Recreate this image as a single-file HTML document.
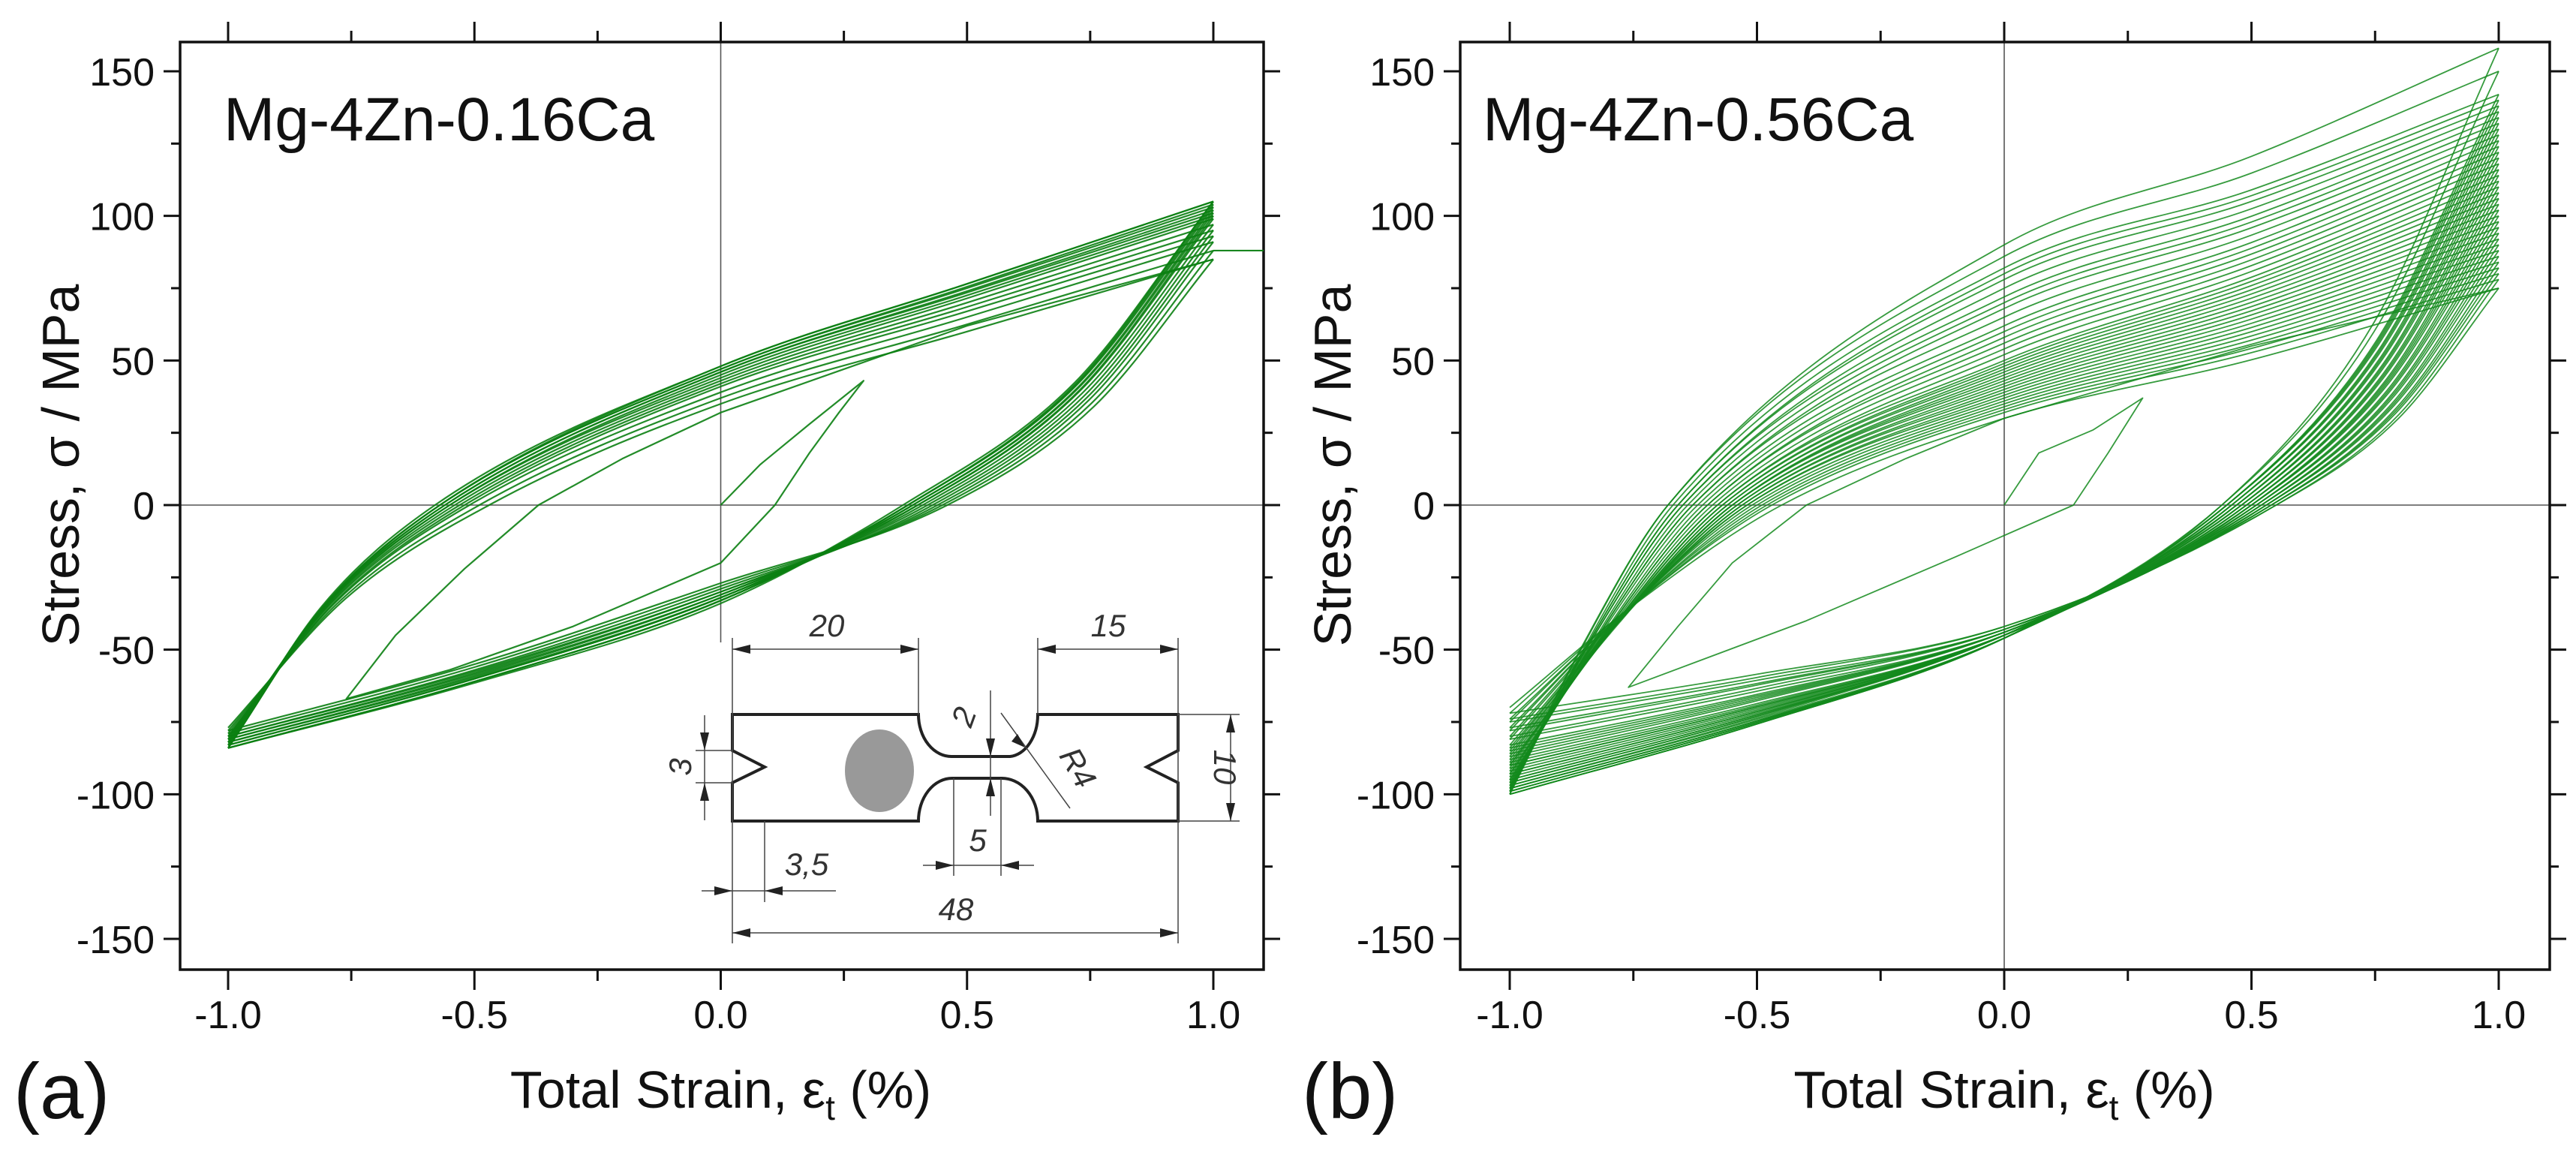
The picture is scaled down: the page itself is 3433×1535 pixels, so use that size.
<!DOCTYPE html>
<html><head><meta charset="utf-8">
<style>
html,body{margin:0;padding:0;background:#fff;}
svg{display:block;}
text{font-family:"Liberation Sans",Arial,sans-serif;fill:#111;}
.dim{font-family:"Liberation Sans",sans-serif;font-style:italic;font-size:42px;fill:#333;}
</style></head>
<body>
<svg id="chart" width="3433" height="1535" viewBox="0 0 3433 1535" xmlns="http://www.w3.org/2000/svg">
<g id="panelA"></g>
<g id="panelB"></g>
<g id="inset" fill="none" stroke="#222">
  <path d="M976,952 H1224 A44,56 0 0 0 1269,1008 H1346 A40,56 0 0 0 1383,952 H1570 V1000 L1528,1022 L1570,1043 V1094 H1383 A48,57 0 0 0 1334,1037 H1269 A45,57 0 0 0 1224,1094 H976 V1043 L1019,1022 L976,1000 Z" stroke-width="4"/>
  <ellipse cx="1172" cy="1027" rx="46" ry="55" fill="#999" stroke="none"/>
  <g stroke-width="1.5" stroke="#444">
    <line x1="976" y1="850" x2="976" y2="1257"/><line x1="1224" y1="850" x2="1224" y2="952"/>
    <line x1="1383" y1="850" x2="1383" y2="952"/><line x1="1570" y1="850" x2="1570" y2="1257"/>
    <line x1="976" y1="865" x2="1224" y2="865"/><line x1="1383" y1="865" x2="1570" y2="865"/>
    <line x1="1320" y1="920" x2="1320" y2="1087"/>
    <line x1="1334" y1="950" x2="1426" y2="1077"/>
    <line x1="1570" y1="952" x2="1652" y2="952"/><line x1="1570" y1="1094" x2="1652" y2="1094"/>
    <line x1="1640" y1="952" x2="1640" y2="1094"/>
    <line x1="927" y1="1000" x2="976" y2="1000"/><line x1="927" y1="1043" x2="976" y2="1043"/>
    <line x1="939" y1="953" x2="939" y2="1093"/>
    <line x1="1271" y1="1037" x2="1271" y2="1167"/><line x1="1334" y1="1037" x2="1334" y2="1167"/>
    <line x1="1230" y1="1153" x2="1378" y2="1153"/>
    <line x1="1019" y1="1094" x2="1019" y2="1202"/>
    <line x1="935" y1="1187" x2="1114" y2="1187"/>
    <line x1="976" y1="1243" x2="1570" y2="1243"/>
  </g>
  <g fill="#222" stroke="none">
    <path d="M976,865 l24,-6 v12z"/><path d="M1224,865 l-24,-6 v12z"/>
    <path d="M1383,865 l24,-6 v12z"/><path d="M1570,865 l-24,-6 v12z"/>
    <path d="M976,1243 l24,-6 v12z"/><path d="M1570,1243 l-24,-6 v12z"/>
    <path d="M1640,952 l-6,24 h12z"/><path d="M1640,1094 l-6,-24 h12z"/>
    <path d="M1271,1153 l-24,-6 v12z"/><path d="M1334,1153 l24,-6 v12z"/>
    <path d="M1320,1037 l-6,24 h12z"/><path d="M1320,1008 l-6,-24 h12z"/>
    <path d="M939,1000 l-6,-24 h12z"/><path d="M939,1043 l-6,24 h12z"/>
    <path d="M976,1187 l-24,-6 v12z"/><path d="M1019,1187 l24,-6 v12z"/>
    <path d="M1366,996 l-18,-8 l8,-10z"/>
  </g>
  <text class="dim" x="1102" y="848" text-anchor="middle" stroke="none">20</text>
  <text class="dim" x="1477" y="848" text-anchor="middle" stroke="none">15</text>
  <text class="dim" x="0" y="0" text-anchor="middle" stroke="none" transform="translate(1298,960) rotate(-70)">2</text>
  <text class="dim" x="0" y="0" text-anchor="middle" stroke="none" transform="translate(1424,1030) rotate(60)">R4</text>
  <text class="dim" x="0" y="0" text-anchor="middle" stroke="none" transform="translate(1618,1022) rotate(90)">10</text>
  <text class="dim" x="0" y="0" text-anchor="middle" stroke="none" transform="translate(921,1022) rotate(-90)">3</text>
  <text class="dim" x="1303" y="1134" text-anchor="middle" stroke="none">5</text>
  <text class="dim" x="1075" y="1166" text-anchor="middle" stroke="none">3,5</text>
  <text class="dim" x="1274" y="1226" text-anchor="middle" stroke="none">48</text>
</g>
</svg>
<script>
// ---------- shared tick data ----------
const xTicks = [-1.0, -0.5, 0.0, 0.5, 1.0];
const xTickLabels = ["-1.0", "-0.5", "0.0", "0.5", "1.0"];
const yTicks = [150, 100, 50, 0, -50, -100, -150];
const yTickLabels = ["150", "100", "50", "0", "-50", "-100", "-150"];

// ---------- panel (a) Mg-4Zn-0.16Ca cycles ----------
const aMax = [85, 88, 91, 93, 95, 97, 99, 100, 101, 102, 103, 104, 105, 105];
const aMin = [-77, -78, -79, -80, -80, -81, -81, -82, -82, -83, -83, -84, -84, -84];
const aUpZeroX = [-0.47, -0.49, -0.51, -0.52, -0.53, -0.54, -0.55, -0.55, -0.56, -0.56, -0.57, -0.57, -0.57, -0.58];
const aUpAt0 = [35, 37, 39, 41, 42, 43, 44, 45, 46, 46, 47, 47, 48, 48];
const aLoZeroX = [0.46, 0.45, 0.44, 0.43, 0.42, 0.41, 0.40, 0.40, 0.39, 0.39, 0.38, 0.38, 0.38, 0.37];
const aLoAt0 = [-27, -28, -29, -30, -30, -31, -31, -32, -32, -32, -33, -33, -33, -34];
const aFirstX = [0, 0.08, 0.18, 0.29, 0.24, 0.18, 0.11, 0.0, -0.3, -0.55, -0.76, -0.66, -0.52, -0.37, -0.2, 0.0, 0.5, 1.0];
const aFirstY = [0, 14, 28, 43, 32, 18, 0, -20, -42, -57, -67, -45, -22, 0, 16, 32, 62, 85];

// ---------- panel (b) Mg-4Zn-0.56Ca cycles ----------
const bMax = [75,78,80,82,84,86,88,90,92,94,96,98,100,102,104,106,108,110,112,114,116,118,120,122,124,126,128,130,132,134,136,138,140,142,150,158];
const bMin = [-70,-72,-74,-75,-77,-78,-80,-81,-83,-84,-85,-86,-87,-88,-89,-90,-90,-91,-92,-93,-93,-94,-95,-95,-96,-96,-97,-97,-98,-98,-98,-99,-99,-100,-99,-100];
const bUpZeroX = [-0.45,-0.47,-0.48,-0.49,-0.50,-0.51,-0.52,-0.52,-0.53,-0.53,-0.54,-0.54,-0.55,-0.55,-0.55,-0.56,-0.56,-0.57,-0.57,-0.58,-0.58,-0.59,-0.60,-0.60,-0.61,-0.62,-0.63,-0.63,-0.64,-0.65,-0.65,-0.66,-0.66,-0.67,-0.68,-0.68];
const bUpAt0 = [30,32,33,34,35,36,37,38,39,40,41,42,43,44,45,46,47,48,49,50,52,54,56,58,60,62,65,68,70,72,75,78,80,82,86,90];
const bLoZeroX = [0.55,0.55,0.54,0.54,0.54,0.53,0.53,0.53,0.52,0.52,0.52,0.51,0.51,0.51,0.50,0.50,0.50,0.50,0.49,0.49,0.49,0.48,0.48,0.48,0.47,0.47,0.47,0.46,0.46,0.46,0.45,0.45,0.45,0.45,0.44,0.44];
const bLoAt0 = [-42,-42,-43,-43,-43,-43,-44,-44,-44,-44,-44,-44,-45,-45,-45,-45,-45,-45,-45,-45,-45,-45,-45,-45,-45,-45,-46,-46,-46,-46,-46,-46,-46,-46,-46,-46];
const bFirstX = [0, 0.07, 0.18, 0.28, 0.21, 0.14, -0.1, -0.4, -0.76, -0.66, -0.55, -0.4, -0.2, 0.0, 0.5, 1.0];
const bFirstY = [0, 18, 26, 37, 18, 0, -18, -40, -63, -42, -20, 0, 16, 30, 55, 75];

const NS = "http://www.w3.org/2000/svg";
function mk(tag, attrs, parent) {
  const e = document.createElementNS(NS, tag);
  for (const k in attrs) e.setAttribute(k, attrs[k]);
  parent.appendChild(e);
  return e;
}
function monoPath(pts) {
  const n = pts.length;
  const d = [], m = [];
  for (let i = 0; i < n - 1; i++) d.push((pts[i + 1][1] - pts[i][1]) / (pts[i + 1][0] - pts[i][0]));
  m[0] = d[0]; m[n - 1] = d[n - 2];
  for (let i = 1; i < n - 1; i++) m[i] = (d[i - 1] * d[i] <= 0) ? 0 : (d[i - 1] + d[i]) / 2;
  for (let i = 0; i < n - 1; i++) {
    if (d[i] === 0) { m[i] = 0; m[i + 1] = 0; continue; }
    const a = m[i] / d[i], b = m[i + 1] / d[i], s = a * a + b * b;
    if (s > 9) { const t = 3 / Math.sqrt(s); m[i] = t * a * d[i]; m[i + 1] = t * b * d[i]; }
  }
  let p = "M" + pts[0][0].toFixed(1) + "," + pts[0][1].toFixed(1);
  for (let i = 0; i < n - 1; i++) {
    const h = (pts[i + 1][0] - pts[i][0]) / 3;
    p += " C" + (pts[i][0] + h).toFixed(1) + "," + (pts[i][1] + m[i] * h).toFixed(1) + " " +
      (pts[i + 1][0] - h).toFixed(1) + "," + (pts[i + 1][1] - m[i + 1] * h).toFixed(1) + " " +
      pts[i + 1][0].toFixed(1) + "," + pts[i + 1][1].toFixed(1);
  }
  return p;
}

function drawPanel(g, cfg) {
  const X = v => cfg.x0 + (v + 1) / 2 * (cfg.x1 - cfg.x0);
  const Y = v => cfg.y0 - v / 150 * (cfg.y0 - cfg.y150);
  const zh = mk("line", {x1: cfg.left, x2: cfg.right, y1: Y(0), y2: Y(0), stroke: "#555", "stroke-width": 1.6}, g);
  
  
  const zv = mk("line", {x1: X(0), x2: X(0), y1: cfg.top, y2: cfg.vzBottom, stroke: "#555", "stroke-width": 1.6}, g);
  
  
  const cg = mk("g", {fill: "none", stroke: cfg.color, "stroke-width": cfg.sw, "stroke-opacity": cfg.op}, g);
  
  
  const n = cfg.max.length;
  for (let i = 0; i < n; i++) {
    const mn = cfg.min[i], mx = cfg.max[i];
    const up = [[-1, mn], [-1 + (cfg.upZ[i] + 1) * 0.45, mn * cfg.kUp], [cfg.upZ[i], 0], [0, cfg.up0[i]], [0.5, cfg.up0[i] + cfg.kMid * (mx - cfg.up0[i])], [1, mx]];
    const mnNext = cfg.min[Math.min(i + 1, n - 1)];
    const lo = [[-1, mnNext], [-0.5, cfg.lo0[i] + 0.55 * (mnNext - cfg.lo0[i])], [0, cfg.lo0[i]], [cfg.loZ[i], 0], [1 - (1 - cfg.loZ[i]) * 0.45, mx * cfg.kLo], [1, mx]];
    const pu = mk("path", {d: monoPath(up.map(p => [X(p[0]), Y(p[1])]))}, cg);
    
    
    const pl = mk("path", {d: monoPath(lo.map(p => [X(p[0]), Y(p[1])]))}, cg);
    
    
  }
  const fp = cfg.firstX.map((v, i) => [X(v), Y(cfg.firstY[i])]);
  const pf = mk("path", {d: "M" + fp.map(p => p[0].toFixed(1) + "," + p[1].toFixed(1)).join(" L"), "stroke-linejoin": "round"}, cg);
  
  
  const fr = mk("rect", {x: cfg.left, y: cfg.top, width: cfg.right - cfg.left, height: cfg.bottom - cfg.top, fill: "none", stroke: "#111", "stroke-width": 3.5}, g);
  
  
  const tg = mk("g", {stroke: "#111", "stroke-width": 3}, g);
  
  
  for (let v = -1; v <= 1.001; v += 0.25) {
    const major = Math.abs(v * 2 - Math.round(v * 2)) < 1e-6;
    const L = major ? 27 : 15;
    mk("line", {x1: X(v), x2: X(v), y1: cfg.bottom, y2: cfg.bottom + L}, tg);
    mk("line", {x1: X(v), x2: X(v), y1: cfg.top, y2: cfg.top - L}, tg);
  }
  for (let v = -150; v <= 150; v += 25) {
    const L = v % 50 === 0 ? 22 : 12;
    mk("line", {x1: cfg.left, x2: cfg.left - L, y1: Y(v), y2: Y(v)}, tg);
    mk("line", {x1: cfg.right, x2: cfg.right + L, y1: Y(v), y2: Y(v)}, tg);
  }
  xTicks.forEach((v, i) => {
    const t = mk("text", {x: X(v), y: 1370, "text-anchor": "middle", "font-size": 52}, g);
    t.textContent = xTickLabels[i];
    
    
  });
  yTicks.forEach((v, i) => {
    const t = mk("text", {x: cfg.left - 34, y: Y(v) + 19, "text-anchor": "end", "font-size": 52}, g);
    t.textContent = yTickLabels[i];
    
    
  });
  const tt = mk("text", {x: cfg.titleX, y: 187, "font-size": 82}, g);
  tt.textContent = cfg.title;
  
  
  const xt = mk("text", {x: X(0), y: 1476, "text-anchor": "middle", "font-size": 70}, g);
  xt.innerHTML = 'Total Strain, ε<tspan font-size="46" dy="16">t</tspan><tspan dy="-16"> (%)</tspan>';
  
  
  const yt = mk("text", {x: 0, y: 0, "text-anchor": "middle", "font-size": 70, transform: "translate(" + cfg.yTitleX + ",620) rotate(-90)"}, g);
  yt.textContent = "Stress, σ / MPa";
  
  
  const pl = mk("text", {x: cfg.labelX, y: 1490, "font-size": 105}, g);
  pl.textContent = cfg.label;
  
  
  return {X, Y};
}

const A = drawPanel(document.getElementById("panelA"), {
  left: 240, right: 1684, top: 56, bottom: 1292, x0: 304, x1: 1617, y0: 673, y150: 95,
  vzBottom: 856, color: "#0b7f12", sw: 2.2, op: 0.9, kUp: 0.42, kMid: 0.5, kLo: 0.4,
  max: aMax, min: aMin, upZ: aUpZeroX, up0: aUpAt0, loZ: aLoZeroX, lo0: aLoAt0,
  firstX: aFirstX, firstY: aFirstY, title: "Mg-4Zn-0.16Ca", titleX: 298, yTitleX: 105, label: "(a)", labelX: 18
});
const sl = mk("line", {x1: A.X(1), x2: 1684, y1: A.Y(88), y2: A.Y(88), stroke: "#0b7f12", "stroke-width": 2}, document.getElementById("panelA"));



drawPanel(document.getElementById("panelB"), {
  left: 1946, right: 3398, top: 56, bottom: 1292, x0: 2012, x1: 3330, y0: 673, y150: 95,
  vzBottom: 1292, color: "#138a1c", sw: 1.8, op: 0.85, kUp: 0.5, kMid: 0.45, kLo: 0.4,
  max: bMax, min: bMin, upZ: bUpZeroX, up0: bUpAt0, loZ: bLoZeroX, lo0: bLoAt0,
  firstX: bFirstX, firstY: bFirstY, title: "Mg-4Zn-0.56Ca", titleX: 1976, yTitleX: 1800, label: "(b)", labelX: 1735
});
document.getElementById("chart").appendChild(document.getElementById("inset"));
</script>
</body></html>
